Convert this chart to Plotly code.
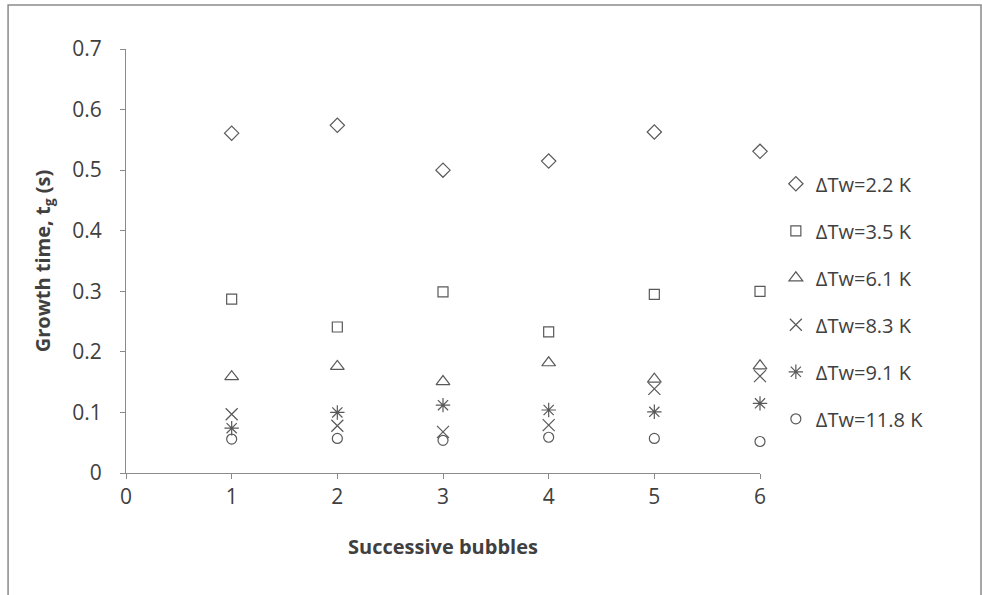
import plotly.graph_objects as go

bubbles = [1, 2, 3, 4, 5, 6]
series_names = ["ΔTw=2.2 K", "ΔTw=3.5 K", "ΔTw=6.1 K", "ΔTw=8.3 K", "ΔTw=9.1 K", "ΔTw=11.8 K"]
tw_2_2 = [0.561, 0.574, 0.500, 0.515, 0.563, 0.531]
tw_3_5 = [0.287, 0.241, 0.299, 0.233, 0.295, 0.300]
tw_6_1 = [0.159, 0.176, 0.151, 0.182, 0.155, 0.177]
tw_8_3 = [0.097, 0.078, 0.068, 0.079, 0.139, 0.160]
tw_9_1 = [0.074, 0.100, 0.112, 0.104, 0.101, 0.115]
tw_11_8 = [0.056, 0.057, 0.054, 0.059, 0.057, 0.052]
y_ticks = [0, 0.1, 0.2, 0.3, 0.4, 0.5, 0.6, 0.7]
y_tick_labels = ["0", "0.1", "0.2", "0.3", "0.4", "0.5", "0.6", "0.7"]
x_ticks = [0, 1, 2, 3, 4, 5, 6]

all_series = [tw_2_2, tw_3_5, tw_6_1, tw_8_3, tw_9_1, tw_11_8]
symbols = ["diamond-open", "square-open", "triangle-up-open", "x-thin-open", "asterisk-open", "circle-open"]
sizes = [11, 10, 12, 12, 12, 10]

fig = go.Figure()
for i, (name, vals) in enumerate(zip(series_names, all_series)):
    fig.add_trace(go.Scatter(
        x=bubbles, y=vals, mode="markers", name=name,
        legendgroup=f"g{i}", cliponaxis=False,
        marker=dict(symbol=symbols[i], size=sizes[i], color="#595959",
                    line=dict(color="#595959", width=1.2)),
    ))

font_family = "'Open Sans', Lato, sans-serif"
fig.update_layout(
    width=982, height=595, autosize=False,
    margin=dict(l=126, r=222, t=49, b=122),
    paper_bgcolor="white", plot_bgcolor="white",
    font=dict(family=font_family, size=21, color="#404040"),
    showlegend=True,
    legend=dict(x=1.025, y=0.405, xanchor="left", yanchor="middle",
                font=dict(size=20, color="#404040"), tracegroupgap=18,
                itemwidth=30, bgcolor="rgba(0,0,0,0)"),
    xaxis=dict(range=[0, 6], tickvals=x_ticks, showgrid=False, zeroline=False,
               showline=True, linecolor="#8a8a8a", linewidth=1,
               ticks="outside", ticklen=5, tickcolor="#8a8a8a",
               tickfont=dict(size=21),
               title=dict(text="<b>Successive bubbles</b>", font=dict(size=20, color="#404040"), standoff=30)),
    yaxis=dict(range=[0, 0.7], tickvals=y_ticks, ticktext=y_tick_labels, showgrid=False, zeroline=False,
               showline=True, linecolor="#8a8a8a", linewidth=1,
               ticks="outside", ticklen=5, tickcolor="#8a8a8a", ticklabelstandoff=14,
               tickfont=dict(size=21),
               title=dict(text="<b>Growth time, t<sub>g</sub> (s)</b>", font=dict(size=20, color="#404040"), standoff=16)),
    shapes=[dict(type="rect", xref="paper", yref="paper",
                 x0=-0.186, x1=1.3486, y0=-0.35, y1=1.104,
                 line=dict(color="#8a8a8a", width=1.5), fillcolor="rgba(0,0,0,0)", layer="below")],
)

fig.write_html("out.html", config={"displayModeBar": False},
               post_script="document.body.style.margin='0';document.body.style.overflow='hidden';")
